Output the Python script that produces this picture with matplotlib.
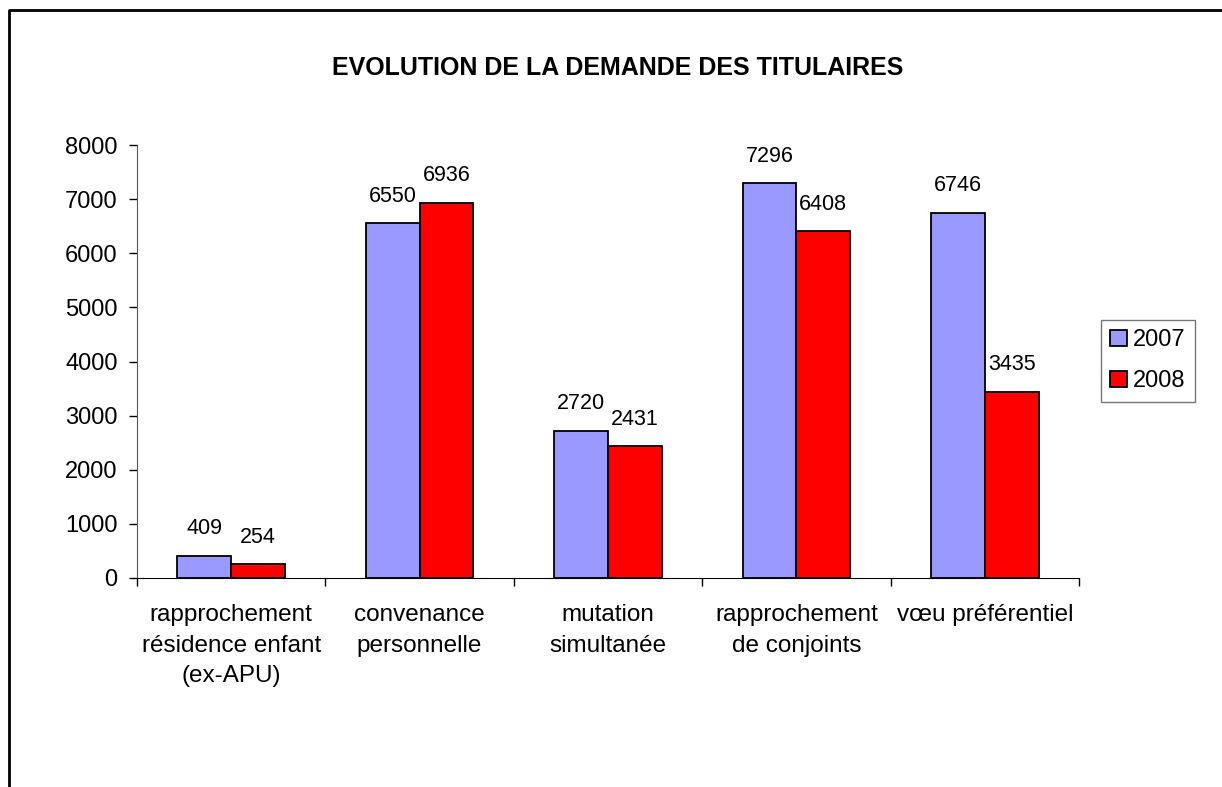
import numpy as np
import matplotlib
matplotlib.use("Agg")
import matplotlib.pyplot as plt
from matplotlib.lines import Line2D

# ------------------------------------------------------------------
# Données
# ------------------------------------------------------------------
categories = [
    "rapprochement\nrésidence enfant\n(ex-APU)",
    "convenance\npersonnelle",
    "mutation\nsimultanée",
    "rapprochement\nde conjoints",
    "vœu préférentiel",
]
series_names = ["2007", "2008"]
values_2007 = [409, 6550, 2720, 7296, 6746]
values_2008 = [254, 6936, 2431, 6408, 3435]
y_ticks = [0, 1000, 2000, 3000, 4000, 5000, 6000, 7000, 8000]
title = "EVOLUTION DE LA DEMANDE DES TITULAIRES"

colors = ["#9999FF", "#FF0000"]

plt.rcParams['font.family'] = ['Liberation Sans', 'DejaVu Sans']

W, H = 1222, 787
fig = plt.figure(figsize=(W / 100, H / 100), dpi=100)
ax = fig.add_axes([137 / W, 1 - 578 / H, (1079 - 137) / W, (578 - 145) / H])

x = np.arange(len(categories))
bw = 1 / 3.5  # largeur d'intervalle 150 %
offsets = [-bw / 2, bw / 2]

bars = []
for k, (vals, name) in enumerate(zip([values_2007, values_2008], series_names)):
    b = ax.bar(x + offsets[k], vals, width=bw, color=colors[k],
               edgecolor="black", linewidth=1.3, label=name, zorder=3)
    bars.append(b)
    for rect, v in zip(b, vals):
        ax.annotate(str(v), (rect.get_x() + rect.get_width() / 2, v),
                    xytext=(0, 19.5), textcoords="offset points",
                    ha="center", va="center", fontsize=15.5)

ax.set_xlim(-0.5, len(categories) - 0.5)
ax.set_ylim(0, 8000)
ax.set_yticks(y_ticks)
ax.set_yticklabels([str(t) for t in y_ticks], fontsize=17)

ax.set_xticks(np.arange(len(categories) + 1) - 0.5)
ax.set_xticklabels([])
ax.set_xticks(x, minor=True)
ax.set_xticklabels(categories, minor=True, fontsize=17.5, linespacing=1.5)
ax.tick_params(axis="x", which="minor", length=0, pad=19)
ax.tick_params(axis="x", which="major", direction="out", length=6, width=1)
ax.tick_params(axis="y", direction="out", length=6, width=1, pad=8)

for s in ["top", "right"]:
    ax.spines[s].set_visible(False)
ax.spines["left"].set_color("#555555")
ax.spines["bottom"].set_color("black")

fig.text(618 / W, 1 - 68 / H, title, ha="center", va="center",
         fontsize=18, fontweight="bold")

leg = fig.legend(handles=bars, labels=series_names, loc="upper left",
                 bbox_to_anchor=(1101 / W, 1 - 320 / H), borderaxespad=0,
                 fontsize=17, frameon=True, fancybox=False, edgecolor="#555555",
                 handlelength=0.7, handleheight=0.7, handletextpad=0.25,
                 borderpad=0.4, labelspacing=0.8)
leg.get_frame().set_linewidth(1)

# Cadre du graphique
fig.add_artist(Line2D([9 / W, 9 / W, 1], [0, 1 - 10 / H, 1 - 10 / H],
                      transform=fig.transFigure, color="black", linewidth=2))

fig.savefig("out.png", dpi=100)
